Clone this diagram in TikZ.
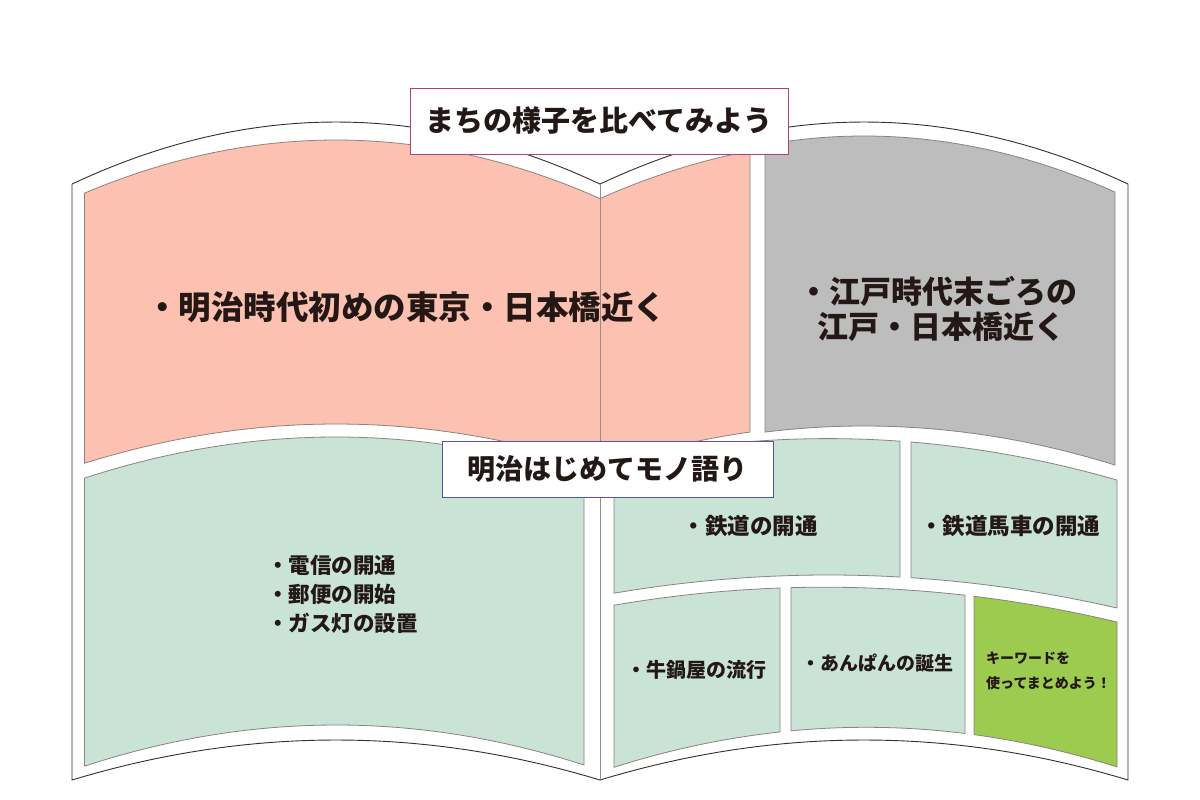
\documentclass[tikz,border=0pt]{standalone}
\usepackage{fontspec}
\setmainfont{Noto Sans CJK JP}
\definecolor{pinkc}{RGB}{252,193,176}
\definecolor{grayc}{RGB}{189,189,189}
\definecolor{mintc}{RGB}{201,227,215}
\definecolor{limec}{RGB}{156,203,79}
\definecolor{edgec}{RGB}{140,130,128}
\definecolor{outerc}{RGB}{55,45,45}
\definecolor{spinec}{RGB}{150,140,138}
\definecolor{ink}{RGB}{35,24,21}
\definecolor{titlec}{RGB}{178,62,128}
\definecolor{bluec}{RGB}{84,84,164}
\tikzset{
  outerline/.style={draw=outerc, fill=white, line width=0.9pt},
  panel/.style={draw=edgec, line width=0.8pt},
  spineline/.style={draw=spinec, line width=1pt},
  headbox/.style={fill=white, line width=0.9pt, inner sep=0pt, text=ink},
  lbl/.style 2 args={text=ink, inner sep=0pt, font=\bfseries\fontsize{#1}{#2}\selectfont}
}
\begin{document}
\begin{tikzpicture}[x=1pt,y=-1pt,samples=41,
  declare function={
    sq(\t)=\t*\t;
    OLT(\x)=122+8.9*sq((\x-336)/100);
    ORT(\x)=122+8.9*sq((\x-864)/100);
    OLB(\x)=740+5.74*sq((\x-336)/100);
    ORB(\x)=740+5.74*sq((\x-864)/100);
    LpT(\x)=140+8.4*sq((\x-336)/100);
    LpB(\x)=424+6.2*sq((\x-336)/100);
    RpT(\x)=140+8.4*sq((\x-864)/100);
    RpB(\x)=424+6.2*sq((\x-864)/100);
    LgT(\x)=437+6.5*sq((\x-336)/100);
    LgB(\x)=725+6.5*sq((\x-336)/100);
    GrT(\x)=136+8.9*sq((\x-864)/100);
    GrB(\x)=426+6.2*sq((\x-864)/100);
    RaT(\x)=438.6+4.96*sq((\x-828)/100);
    RaB(\x)=575+3.96*sq((\x-828.3)/100);
    RbT(\x)=587.2+4.07*sq((\x-824.4)/100);
    RbB(\x)=727.3+6.29*sq((\x-866)/100);
  }]
\useasboundingbox (0,0) rectangle (1200,800);
% book outline
\path[outerline] (72,184) -- plot[domain=72:600] (\x,{OLT(\x)}) -- plot[domain=600:1128] (\x,{ORT(\x)}) -- (1128,780) -- plot[domain=1128:600] (\x,{ORB(\x)}) -- plot[domain=600:72] (\x,{OLB(\x)}) -- cycle;
% pink panel (spans spine)
\path[panel, fill=pinkc] plot[domain=84.5:600] (\x,{LpT(\x)}) -- plot[domain=600:750] (\x,{RpT(\x)}) -- plot[domain=750:600] (\x,{RpB(\x)}) -- plot[domain=600:84.5] (\x,{LpB(\x)}) -- cycle;
% gray panel
\path[panel, fill=grayc] plot[domain=765:1115] (\x,{GrT(\x)}) -- plot[domain=1115:765] (\x,{GrB(\x)}) -- cycle;
% left green panel
\path[panel, fill=mintc] plot[domain=84.5:584] (\x,{LgT(\x)}) -- plot[domain=584:84.5] (\x,{LgB(\x)}) -- cycle;
% right page row 1
\path[panel, fill=mintc] plot[domain=614:900] (\x,{RaT(\x)}) -- plot[domain=900:614] (\x,{RaB(\x)}) -- cycle;
\path[panel, fill=mintc] plot[domain=911:1117] (\x,{RaT(\x)}) -- plot[domain=1117:911] (\x,{RaB(\x)}) -- cycle;
% right page row 2
\path[panel, fill=mintc] plot[domain=614:780] (\x,{RbT(\x)}) -- plot[domain=780:614] (\x,{RbB(\x)}) -- cycle;
\path[panel, fill=mintc] plot[domain=791:965] (\x,{RbT(\x)}) -- plot[domain=965:791] (\x,{RbB(\x)}) -- cycle;
\path[panel, fill=limec] plot[domain=974:1117] (\x,{RbT(\x)}) -- plot[domain=1117:974] (\x,{RbB(\x)}) -- cycle;
% spine
\coordinate (spinetop) at (600,184);
\coordinate (spinebot) at (600,781);
\draw[spineline] (spinetop) -- (spinebot);
% heading boxes
\node[headbox, draw=titlec, minimum width=378pt, minimum height=66pt, font=\bfseries\fontsize{29}{34}\selectfont] (title) at (599,121) {まちの様子を比べてみよう};
\node[headbox, draw=bluec, minimum width=331pt, minimum height=56pt, font=\bfseries\fontsize{28}{33}\selectfont] (monobox) at (607.5,469) {明治はじめてモノ語り};
% panel texts
\node[lbl={32.5}{37}] (meiji) at (406,307) {・明治時代初めの東京・日本橋近く};
\node[lbl={31}{35}, align=left, anchor=west] (edo) at (798,309) {・江戸時代末ごろの\\\hspace*{0.62em}江戸・日本橋近く};
\node[lbl={21.5}{29}, align=left, anchor=west] (infra) at (267,594) {・電信の開通\\・郵便の開始\\・ガス灯の設置};
\node[lbl={22.5}{26}] (rail) at (750,526) {・鉄道の開通};
\node[lbl={22.5}{26}] (horse) at (1010,526) {・鉄道馬車の開通};
\node[lbl={20}{24}] (beef) at (696,670) {・牛鍋屋の流行};
\node[lbl={19}{23}] (anpan) at (877,663) {・あんぱんの誕生};
\node[lbl={14}{25}, align=left, anchor=west] (keyword) at (986,671) {キーワードを\\使ってまとめよう！};
\end{tikzpicture}
\end{document}
